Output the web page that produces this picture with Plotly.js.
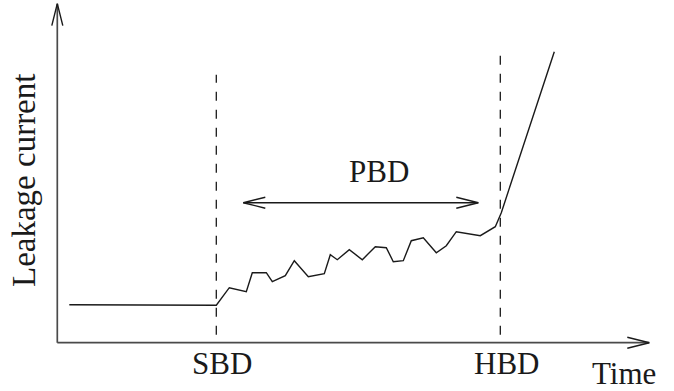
<!DOCTYPE html>
<html>
<head>
<meta charset="utf-8">
<script src="https://cdn.plot.ly/plotly-3.0.1.min.js"></script>
<style>html,body{margin:0;padding:0;background:#fff;}#chart{width:674px;height:391px;}</style>
</head>
<body>
<div id="chart"></div>
<script>
// Schematic leakage-current trace (arbitrary units)
const timeVals    = [12, 159, 172, 189, 195, 209, 215, 228, 237, 251, 267, 273, 280, 292, 305, 318, 329, 336, 346, 354, 366, 379, 389, 399, 423, 438, 444, 497];
const currentVals = [38, 37.5, 55, 51, 70, 70, 61, 67, 82, 66, 69, 88, 83, 93, 83, 96, 95, 81, 82, 102, 105, 90, 97, 111, 107, 116, 130, 291];

const eventTimes  = [159, 443];      // SBD, HBD
const eventTops   = [268, 295];
const eventLabels = ['SBD', 'HBD'];
const eventLabelTime = [165, 449];

const pbdSpan  = [186, 421];
const pbdLevel = 140;
const pbdLabel = 'PBD';

const axisEnds = {time: 592, current: 339};
const xTitle = 'Time';
const yTitle = 'Leakage current';

const ink = '#1a1a1a';
const axisInk = '#4a4a4a';
const HL = 22, HW = 5.5; // arrowhead size (units = px here)

function head(tx, ty, dx, dy, color) {
  const bx = tx - dx * HL, by = ty - dy * HL;
  const px = -dy, py = dx;
  return {
    type: 'path', xref: 'x', yref: 'y',
    path: `M${bx + px * HW},${by + py * HW} L${tx},${ty} L${bx - px * HW},${by - py * HW}`,
    line: {color: color, width: 1.4}
  };
}

const shapes = [];
shapes.push({type: 'line', xref: 'x', yref: 'y', x0: 0, y0: 0, x1: axisEnds.time, y1: 0, line: {color: axisInk, width: 1.7}});
shapes.push({type: 'line', xref: 'x', yref: 'y', x0: 0, y0: 0, x1: 0, y1: axisEnds.current, line: {color: axisInk, width: 1.7}});
shapes.push(head(axisEnds.time, 0, 1, 0, ink));
shapes.push(head(0, axisEnds.current, 0, 1, ink));
eventTimes.forEach((t, i) => {
  shapes.push({type: 'line', xref: 'x', yref: 'y', x0: t, y0: 8, x1: t, y1: eventTops[i],
    line: {color: ink, width: 1.3, dash: '9px,9px'}});
});
shapes.push({type: 'line', xref: 'x', yref: 'y', x0: pbdSpan[0], y0: pbdLevel, x1: pbdSpan[1], y1: pbdLevel, line: {color: ink, width: 1.4}});
shapes.push(head(pbdSpan[1], pbdLevel, 1, 0, ink));
shapes.push(head(pbdSpan[0], pbdLevel, -1, 0, ink));

const family = '"Liberation Serif", "DejaVu Serif", serif';
const font = {family: family, size: 31, color: ink};
const annotations = [];
eventLabels.forEach((lab, i) => {
  annotations.push({x: eventLabelTime[i], y: -21, xref: 'x', yref: 'y', text: lab, showarrow: false, font: font});
});
annotations.push({x: (pbdSpan[0] + pbdSpan[1]) / 2 + 18, y: 171, xref: 'x', yref: 'y', text: pbdLabel, showarrow: false, font: font});
annotations.push({x: 567, y: -31, xref: 'x', yref: 'y', text: xTitle, showarrow: false, font: font});
annotations.push({x: -34, y: 162, xref: 'x', yref: 'y', text: yTitle, showarrow: false, textangle: -90,
  font: {family: family, size: 33, color: ink}});

const trace = {
  x: timeVals, y: currentVals, type: 'scatter', mode: 'lines',
  line: {color: ink, width: 1.4}, hoverinfo: 'skip'
};

const layout = {
  width: 674, height: 391,
  margin: {l: 0, r: 0, t: 0, b: 0, pad: 0},
  paper_bgcolor: '#fff', plot_bgcolor: '#fff',
  showlegend: false,
  xaxis: {range: [-57.3, 616.7], visible: false, fixedrange: true},
  yaxis: {range: [-48.3, 342.7], visible: false, fixedrange: true},
  shapes: shapes,
  annotations: annotations
};

Plotly.newPlot('chart', [trace], layout, {staticPlot: true, displayModeBar: false});
</script>
</body>
</html>
